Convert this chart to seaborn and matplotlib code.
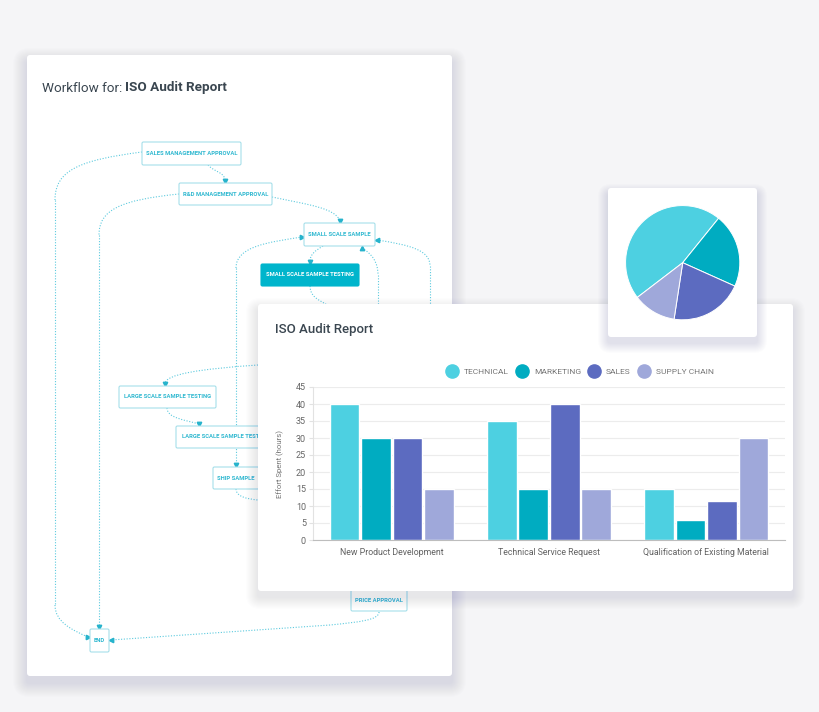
import matplotlib
matplotlib.use('Agg')
import matplotlib.pyplot as plt
import numpy as np
import pandas as pd
import seaborn as sns
from matplotlib.lines import Line2D
from matplotlib.patches import FancyBboxPatch, PathPatch
from matplotlib.path import Path

# chart data
processes = ['New Product Development', 'Technical Service Request', 'Qualification of Existing Material']
teams = ['TECHNICAL', 'MARKETING', 'SALES', 'SUPPLY CHAIN']
technical_hours = [40, 35, 15]
marketing_hours = [30, 15, 6]
sales_hours = [30, 40, 11.5]
supply_chain_hours = [15, 15, 30]
pie_shares = [46.2, 20.9, 20.7, 12.2]
team_colors = ['#4dd0e1', '#00acc1', '#5c6bc0', '#9fa8da']
y_ticks = [0, 5, 10, 15, 20, 25, 30, 35, 40, 45]

# workflow diagram labels
workflow_steps = ['SALES MANAGEMENT APPROVAL', 'R&D MANAGEMENT APPROVAL', 'SMALL SCALE SAMPLE',
                  'SMALL SCALE SAMPLE TESTING', 'LARGE SCALE SAMPLE TESTING', 'LARGE SCALE SAMPLE TESTING',
                  'SHIP SAMPLE', 'PRICE APPROVAL', 'END']

# layout of the boxes, in pixels (x0, y0, x1, y1)
step_boxes = [(142, 142, 241, 165), (179, 183, 272, 205), (304, 223, 375, 246),
              (261, 264, 359, 286), (119, 386, 216, 408), (176, 426, 276, 448),
              (213, 467, 259, 489), (351, 590, 407, 611), (90, 629, 109, 652)]
highlighted_step = 3

sns.set_theme(style='white')
plt.rcParams['font.family'] = ['Roboto', 'DejaVu Sans']

fig = plt.figure(figsize=(8.2, 7.12), dpi=100)
fig.patch.set_facecolor('#f5f5f7')
bg = fig.add_axes([0, 0, 1, 1])
bg.set_xlim(0, 820)
bg.set_ylim(712, 0)
bg.axis('off')
bg.patch.set_alpha(0)

line_color = '#5ccade'
text_dark = '#3a4650'


def card(x0, y0, x1, y1, z, spread=12, drop=5, alpha=0.013):
    for i in range(spread, 0, -1):
        bg.add_patch(FancyBboxPatch((x0 - i, y0 - i + drop), x1 - x0 + 2 * i, y1 - y0 + 2 * i,
                                    boxstyle='round,pad=0,rounding_size=%d' % (3 + i),
                                    facecolor='#5a5f96', edgecolor='none', alpha=alpha, zorder=z))
    bg.add_patch(FancyBboxPatch((x0, y0), x1 - x0, y1 - y0, boxstyle='round,pad=0,rounding_size=3',
                                facecolor='white', edgecolor='none', zorder=z + 0.5))


def bez(p0, c1, c2, p1, z=3):
    path = Path([p0, c1, c2, p1], [Path.MOVETO, Path.CURVE4, Path.CURVE4, Path.CURVE4])
    bg.add_patch(PathPatch(path, facecolor='none', edgecolor=line_color, lw=0.8,
                           linestyle=(0, (1, 1.5)), zorder=z))


def seg(p0, p1, z=3):
    bg.plot([p0[0], p1[0]], [p0[1], p1[1]], color=line_color, lw=0.8, linestyle=(0, (1, 1.5)), zorder=z)


def arrow(p, m):
    bg.plot([p[0]], [p[1]], marker=m, markersize=3.2, color='#26b3cc', zorder=3.5)


# workflow card
card(27, 55, 452, 676, 1, spread=14, drop=7, alpha=0.011)
bg.text(42, 88, 'Workflow for:', fontsize=9.7, color=text_dark, va='center', zorder=4)
bg.text(125, 88, 'ISO Audit Report', fontsize=9.7, color=text_dark, va='center', weight='bold', zorder=4)

# connections
bez((208, 165), (214, 172), (225, 172), (225, 181))
arrow((225, 181), 'v')
bez((142, 152), (80, 160), (55, 170), (55, 200))
seg((55, 200), (55, 605))
bez((55, 605), (55, 622), (72, 630), (88, 637))
arrow((88, 637), '>')
bez((179, 194), (120, 200), (99, 210), (99, 235))
seg((99, 235), (99, 627))
arrow((99, 627), 'v')
bez((272, 197), (310, 205), (335, 208), (340, 221))
arrow((340, 221), 'v')
bez((323, 246), (315, 251), (310, 254), (310, 262))
arrow((310, 262), 'v')
bez((310, 286), (310, 296), (318, 300), (326, 304))
bez((236, 268), (236, 246), (270, 242), (302, 237))
arrow((302, 237), '>')
seg((236, 268), (236, 465))
arrow((236, 465), 'v')
bez((362, 248), (372, 254), (378, 262), (378, 275))
seg((378, 275), (378, 304))
arrow((362, 248), '^')
bez((377, 240), (410, 245), (430, 250), (430, 266))
seg((430, 266), (430, 304))
arrow((377, 240), '<')
bez((258, 365), (200, 369), (165, 374), (165, 384))
arrow((165, 384), 'v')
bez((167, 408), (167, 418), (185, 420), (199, 424))
arrow((199, 424), 'v')
bez((236, 489), (236, 497), (248, 499), (258, 500))
bez((379, 612), (379, 620), (360, 622), (330, 625))
seg((330, 625), (111, 640))
arrow((111, 640), '<')

# step boxes
for idx, (label, (x0, y0, x1, y1)) in enumerate(zip(workflow_steps, step_boxes)):
    filled = idx == highlighted_step
    bg.add_patch(FancyBboxPatch((x0, y0), x1 - x0, y1 - y0, boxstyle='round,pad=0,rounding_size=1.5',
                                facecolor='#00b5cc' if filled else 'white',
                                edgecolor='#00b5cc' if filled else '#a6dfea', lw=0.8, zorder=4))
    bg.text((x0 + x1) / 2, (y0 + y1) / 2, label, fontsize=4.2, weight='bold',
            color='white' if filled else '#2fb8d0', ha='center', va='center', zorder=4.5)

# bar card and pie card
card(258, 304, 793, 591, 5, spread=12, drop=6, alpha=0.013)
bg.text(275, 329, 'ISO Audit Report', fontsize=9.5, color=text_dark, va='center', weight='medium', zorder=9)
card(608, 188, 757, 337, 7, spread=10, drop=6, alpha=0.016)

# bar chart
df = pd.DataFrame({
    'Process': processes * 4,
    'Team': np.repeat(teams, len(processes)),
    'Hours': technical_hours + marketing_hours + sales_hours + supply_chain_hours,
})
ax = fig.add_axes([313 / 820, 1 - 540 / 712, 472 / 820, 153 / 712])
ax.patch.set_alpha(0)
sns.barplot(data=df, x='Process', y='Hours', hue='Team', order=processes, hue_order=teams,
            palette=team_colors, saturation=1, width=0.8, gap=0.06, legend=False, ax=ax)
ax.set_xlim(-0.5, 2.5)
ax.set_ylim(0, 45)
ax.set_yticks(y_ticks)
ax.yaxis.grid(True, color='#ececec', lw=0.8)
ax.set_axisbelow(True)
for side in ['top', 'right']:
    ax.spines[side].set_visible(False)
ax.spines['left'].set_color('#e2e2e2')
ax.spines['left'].set_linewidth(0.8)
ax.spines['bottom'].set_color('#bdbdbd')
ax.spines['bottom'].set_linewidth(0.8)
ax.tick_params(axis='y', length=3, width=0.8, color='#e2e2e2', pad=2, labelsize=6.5, labelcolor='#666666', left=True)
ax.tick_params(axis='x', length=0, pad=6, labelsize=6.3, labelcolor='#616161')
ax.set_xlabel('')
ax.set_ylabel('Effort Spent (hours)', fontsize=5.6, color='#757575')
ax.yaxis.set_label_coords(-0.061, 0.5)

handles = [Line2D([], [], marker='o', linestyle='none', markersize=9.5, color=c) for c in team_colors]
ax.legend(handles, teams, loc='center', bbox_to_anchor=(580.5 / 820, 1 - 371.5 / 712), bbox_transform=fig.transFigure,
          ncol=4, frameon=False, fontsize=6, labelcolor='#757575', handlelength=1.2, handletextpad=0.8,
          columnspacing=1.0, borderpad=0)

# pie chart
pie_ax = fig.add_axes([625 / 820, 1 - 320.4 / 712, 115.4 / 820, 115.4 / 712])
pie_ax.pie(pie_shares, colors=team_colors, startangle=217.4, counterclock=False,
           wedgeprops=dict(edgecolor='white', linewidth=0.7))
pie_ax.set_xlim(-1.01, 1.01)
pie_ax.set_ylim(-1.01, 1.01)
pie_ax.set_aspect('equal')

fig.savefig('out.png', dpi=100, facecolor=fig.get_facecolor())
